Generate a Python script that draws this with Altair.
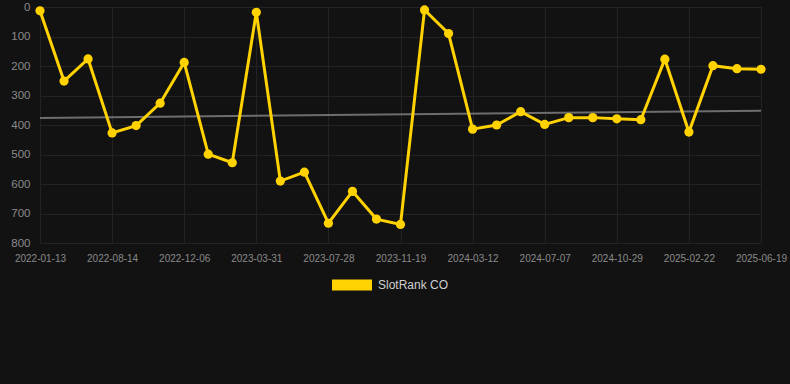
import altair as alt
import pandas as pd

# Data
ranks = [13, 251, 176, 427, 402, 326, 188, 499, 528, 18, 590, 560, 733, 625, 719, 737,
         10, 90, 414, 400, 355, 398, 375, 375, 379, 382, 177, 424, 199, 209, 211]
tick_labels = ["2022-01-13", "2022-08-14", "2022-12-06", "2023-03-31", "2023-07-28",
               "2023-11-19", "2024-03-12", "2024-07-07", "2024-10-29", "2025-02-22",
               "2025-06-19"]
trend_ends = [376, 352]
series_name = "SlotRank CO"

n = len(ranks)
df = pd.DataFrame({"i": list(range(n)), "rank": ranks, "series": [series_name] * n})
trend_df = pd.DataFrame({"i": [0, n - 1], "rank": trend_ends})

tick_values = list(range(0, n, 3))
label_arr = "[" + ",".join("'" + t + "'" for t in tick_labels) + "]"
label_expr = label_arr + "[round(datum.value / 3)]"

YELLOW = "#FFD200"
x_enc = alt.X("i:Q", scale=alt.Scale(domain=[0, n - 1], nice=False, zero=False),
              axis=alt.Axis(values=tick_values, labelExpr=label_expr, title=None,
                            grid=True, domain=False, ticks=False, labelPadding=10,
                            labelOverlap=False, labelFlush=False, labelBound=False,
                            labelFontSize=10, labelColor="#8a8a8a"))
y_enc = alt.Y("rank:Q", scale=alt.Scale(domain=[0, 800], reverse=True, nice=False),
              axis=alt.Axis(values=list(range(0, 801, 100)), title=None, grid=True,
                            domain=False, ticks=False, labelPadding=10,
                            labelOverlap=False, labelFlush=False,
                            labelFontSize=11.5, labelColor="#8a8a8a"))

trend = alt.Chart(trend_df).mark_line(color="#6e6e6e", strokeWidth=2).encode(x=x_enc, y=y_enc)

line = alt.Chart(df).mark_line(strokeWidth=3, point=alt.OverlayMarkDef(size=85, filled=True, opacity=1)).encode(
    x=x_enc, y=y_enc,
    color=alt.Color("series:N", scale=alt.Scale(range=[YELLOW]),
                    legend=alt.Legend(title=None, orient="none", legendX=292, legendY=258,
                                      symbolType="M-1,-0.275L1,-0.275L1,0.275L-1,0.275Z",
                                      symbolSize=1600, symbolFillColor=YELLOW,
                                      symbolStrokeWidth=0, symbolOpacity=1,
                                      labelFontSize=12, labelColor="#d0d0d0",
                                      labelOffset=6, padding=0))
)

chart = alt.layer(trend, line).properties(
    width=721, height=236,
    background="#121212",
    padding={"left": 40, "top": 7, "right": 29, "bottom": 141},
    autosize=alt.AutoSizeParams(type="none"),
).configure_view(stroke=None).configure_axis(
    gridColor="#232323", gridWidth=1, labelFont="Liberation Sans"
).configure_legend(labelFont="Liberation Sans")

chart.save("out.html", embed_options={"renderer": "svg", "actions": False})
